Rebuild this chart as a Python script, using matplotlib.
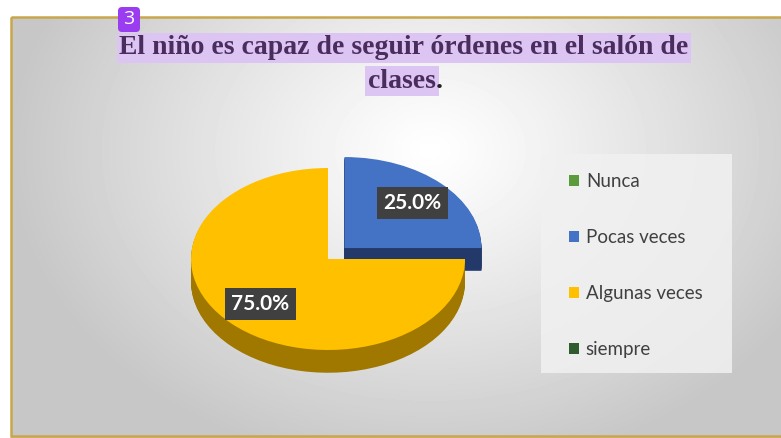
import numpy as np
import matplotlib
matplotlib.use("Agg")
import matplotlib.pyplot as plt
from matplotlib.patches import Rectangle, FancyBboxPatch

# data
categories = ["Nunca", "Pocas veces", "Algunas veces", "siempre"]
values = [0, 25, 75, 0]
top_colors = ["#5b9b3c", "#4472c4", "#ffc000", "#2e5c2e"]
side_colors = ["#3f6d29", "#22396a", "#a07800", "#1e3d1e"]
explode = [0, 0.17, 0, 0]
title_line1 = "El niño es capaz de seguir órdenes en el salón de"
title_line2 = "clases"
badge = "3"

W, H = 781, 438
fig = plt.figure(figsize=(W / 100, H / 100), dpi=100)

# background axes in pixel coords
bg = fig.add_axes([0, 0, 1, 1])
bg.set_xlim(0, W)
bg.set_ylim(H, 0)
bg.axis("off")

yy, xx = np.mgrid[0:H, 0:W]
d = np.sqrt(((xx - 430) / 420.0) ** 2 + ((yy - 150) / 320.0) ** 2)
shade = 1 - 0.22 * np.clip(d, 0, 1) ** 1.1
bg.imshow(shade, cmap="gray", vmin=0, vmax=1, extent=(0, W, H, 0), zorder=0)
# white margin outside the frame
bg.add_patch(Rectangle((0, 0), W, 17, fc="white", ec="none", zorder=1))
bg.add_patch(Rectangle((0, 0), 11, H, fc="white", ec="none", zorder=1))
bg.add_patch(Rectangle((11, 17), W, 419, fill=False, ec="#c9a64a", lw=1.8, zorder=2))

# legend panel
bg.add_patch(Rectangle((541, 154), 191, 219, fc="#f1f1f1", ec="none", alpha=0.85, zorder=2))

# title
tkw = dict(ha="center", va="center", fontfamily="Liberation Serif", fontweight="bold",
           fontsize=20, color="#4a2d5e", zorder=5)
hl = dict(boxstyle="square,pad=0.1", fc="#dcc5f3", ec="none")
bg.text(404, 48, title_line1, bbox=hl, **tkw)
bg.text(436, 81, title_line2, bbox=hl, **{**tkw, "ha": "right"})
bg.text(436, 81, ".", **{**tkw, "ha": "left", "color": "#222222"})

# badge
bg.add_patch(FancyBboxPatch((118, 7), 22, 25, boxstyle="round,pad=0,rounding_size=4",
                            fc="#9a3cf0", ec="none", zorder=6))
bg.text(129, 19.5, badge, ha="center", va="center", color="white", fontsize=14,
        fontfamily="Open Sans", zorder=7)

# pie axes: radius 1 -> 137 px wide, 91 px tall, centre at (328, 259)
ax = fig.add_axes([0, 0, 1, 1])
ax.patch.set_visible(False)

depth = 0.25
n_layers = 24
for k in range(n_layers):
    off = depth * (1 - k / n_layers)
    wedges, _ = ax.pie(values, colors=side_colors, explode=explode, startangle=0,
                       counterclock=True, center=(0, -off),
                       wedgeprops=dict(linewidth=0))
    for i, w in enumerate(wedges):
        w.set_zorder(1 if i == 1 else 3)

wedges, _, autotexts = ax.pie(values, colors=top_colors, explode=explode, startangle=0,
                              counterclock=True, center=(0, 0),
                              autopct=lambda p: f"{p:.1f}%" if p > 0 else "",
                              pctdistance=0.7,
                              wedgeprops=dict(linewidth=0))
for i, w in enumerate(wedges):
    w.set_zorder(2 if i == 1 else 4)
for t in autotexts:
    t.set(color="white", fontweight="bold", fontsize=15, fontfamily=["Lato", "DejaVu Sans"],
          zorder=8)
    t.set_bbox(dict(boxstyle="square,pad=0.3", fc="#404040", ec="none"))

cx, cy, rx, ry = 328, 259, 137.0, 91.0
ax.set_aspect("auto")
ax.set_xlim(-cx / rx, (W - cx) / rx)
ax.set_ylim(-(H - cy) / ry, cy / ry)
ax.axis("off")

leg = fig.legend(wedges, categories, loc="upper left",
                 bbox_to_anchor=(569 / W, 1 - 173 / H), frameon=False,
                 borderpad=0, borderaxespad=0, handlelength=0.55, handleheight=0.55,
                 handletextpad=0.35, labelspacing=2.08,
                 prop=dict(family=["Lato", "DejaVu Sans"], size=13.5))
for t in leg.get_texts():
    t.set_color("#404040")

fig.savefig("out.png", dpi=100)
